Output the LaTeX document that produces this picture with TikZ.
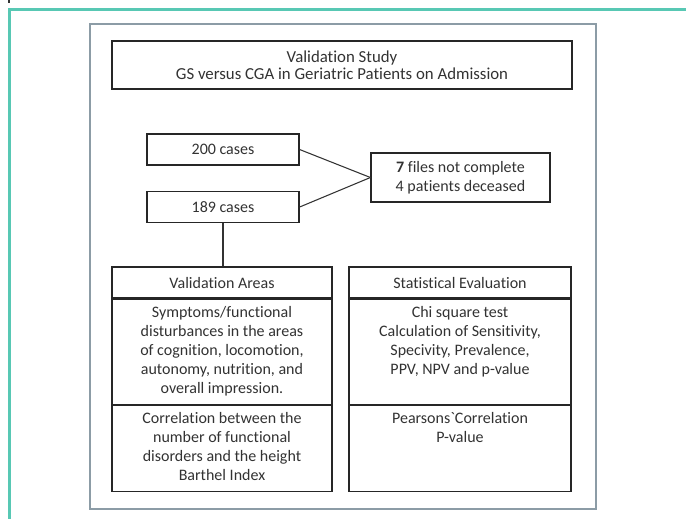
\documentclass[tikz,border=0pt]{standalone}
\usepackage{fontspec}
\setmainfont{Carlito}[Ligatures={NoCommon}]
\usetikzlibrary{positioning}

\definecolor{framegreen}{RGB}{88,200,180}
\definecolor{framegray}{RGB}{140,156,166}
\definecolor{inkgray}{RGB}{50,50,50}

\newcommand{\celltext}[3]{\parbox[t][#1][t]{#2}{\centering\vspace*{3.5pt}\strut #3}}

\begin{document}
\begin{tikzpicture}[x=0.75pt, y=-0.75pt,
    box/.style={draw=black!85, line width=0.9pt, inner sep=0pt, align=center,
      text=inkgray, font=\fontsize{12}{14.25}\selectfont},
    casebox/.style={box, minimum width=114pt, minimum height=23.25pt},
    link/.style={draw=black!80, line width=0.8pt}]
  \useasboundingbox (0,0) rectangle (686,519);

  % Rahmen
  \draw[framegreen, line width=1.6pt] (686,9.5) -- (9.5,9.5) -- (9.5,519);
  \draw[black!80, line width=1pt] (9,0) -- (9,2.5);
  \draw[framegray, line width=1.5pt] (90,24) rectangle (596,509);

  % Kopf
  \node[box, minimum width=345pt, minimum height=36pt,
    font=\fontsize{12.6}{12.75}\selectfont] (title) at (342,65)
    {Validation Study\\GS versus CGA in Geriatric Patients on Admission};

  % Fallzahlen
  \node[casebox] (c200) at (223,149.5) {200 cases};
  \node[casebox, below=19pt of c200] (c189) {189 cases};
  \node[box, minimum width=134.25pt, minimum height=36.75pt] (excl) at (460.5,177.5)
    {\textbf{7} files not complete\\4 patients deceased};
  \draw[link] (c200.east) -- (excl.west);
  \draw[link] (c189.east) -- (excl.west);

  % Validierung
  \node[box, minimum width=165pt, minimum height=23.25pt] (vahead) at (222,282.5) {Validation Areas};
  \node[box, below=0pt of vahead] (vabody)
    {\celltext{78.75pt}{165pt}{Symptoms/functional\\disturbances in the areas\\of cognition, locomotion,\\autonomy, nutrition, and\\overall impression.}};
  \node[box, below=0pt of vabody] (vacorr)
    {\celltext{64.5pt}{165pt}{Correlation between the\\number of functional\\disorders and the height\\Barthel Index}};
  \draw[link] (c189.south) -- (c189.south |- vahead.north);

  % Statistik
  \node[box, minimum width=166.5pt, minimum height=23.25pt] (sthead) at (460,282.5) {Statistical Evaluation};
  \node[box, below=0pt of sthead] (stbody)
    {\celltext{78.75pt}{166.5pt}{Chi square test\\Calculation of Sensitivity,\\Specivity, Prevalence,\\PPV, NPV and p-value}};
  \node[box, below=0pt of stbody] (stcorr)
    {\celltext{64.5pt}{166.5pt}{Pearsons\textasciigrave Correlation\\P-value}};
\end{tikzpicture}
\end{document}
